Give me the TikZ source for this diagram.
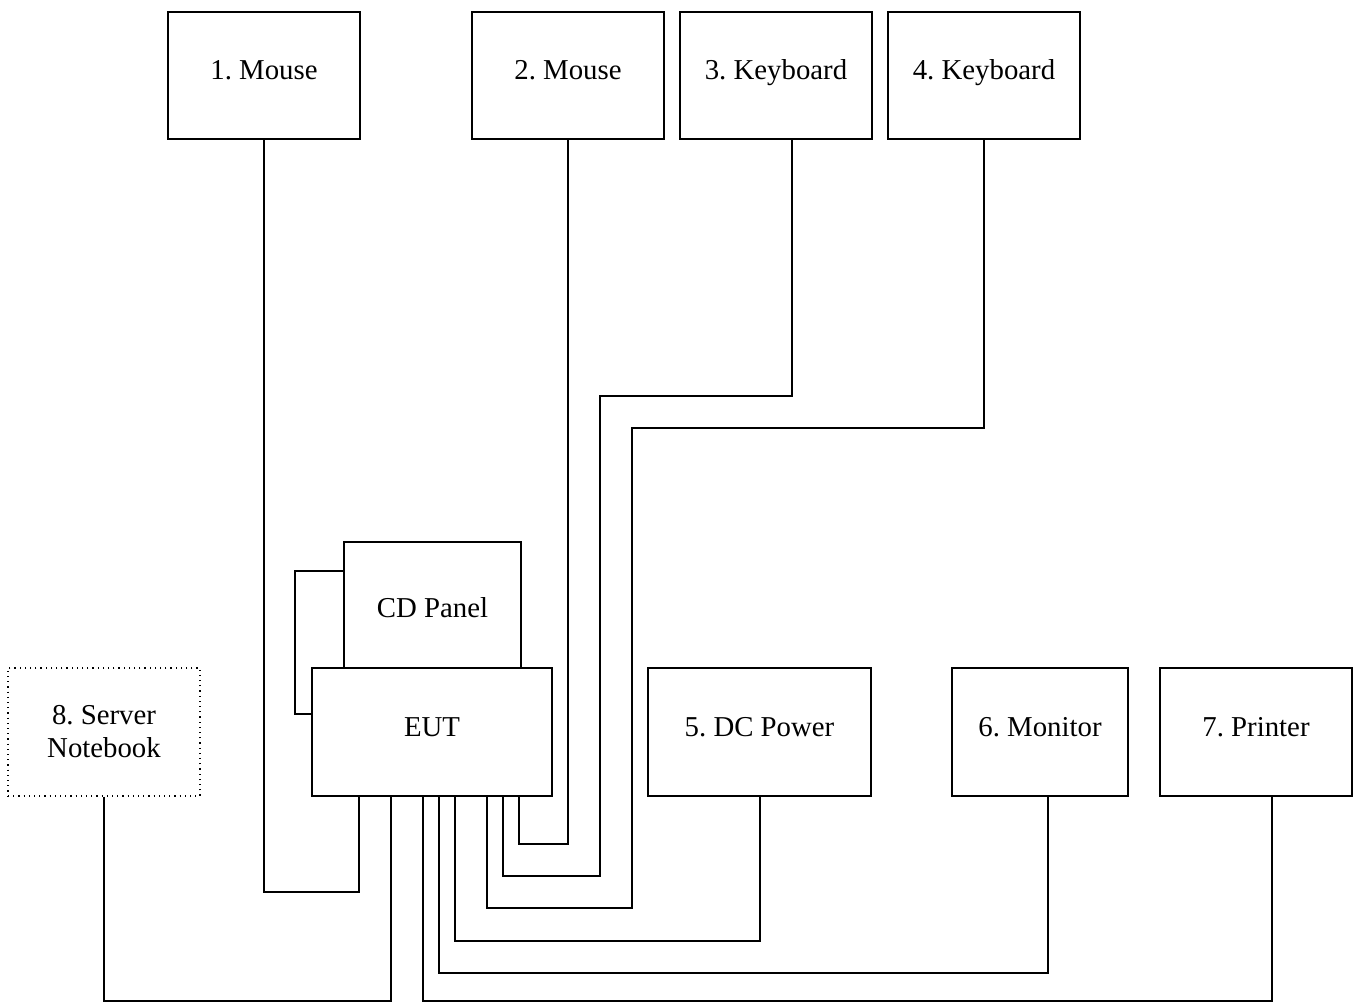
\documentclass[tikz,border=0pt]{standalone}
\usepackage{fontspec}
\setmainfont{Liberation Serif}
\begin{document}
\frenchspacing
\begin{tikzpicture}[x=0.5pt,y=-0.5pt,
  box/.style={draw,line width=1pt,inner sep=0pt,align=center,
    font=\fontsize{14.4}{16.5}\selectfont\frenchspacing},
  onebox/.style={box,text height=0.68em,text depth=0.25em},
  dotbox/.style={box,line width=0.6pt,dotted},
  wire/.style={line width=1pt}]
\useasboundingbox (0,0) rectangle (1359,1003);
% top devices
\node[onebox,minimum width=96pt,minimum height=63.5pt] (m1) at (264,75.5) {1. Mouse};
\node[onebox,minimum width=96pt,minimum height=63.5pt] (m2) at (568,75.5) {2. Mouse};
\node[onebox,minimum width=96pt,minimum height=63.5pt] (k3) at (776,75.5) {3. Keyboard};
\node[onebox,minimum width=96pt,minimum height=63.5pt] (k4) at (984,75.5) {4. Keyboard};
% EUT and CD panel
\node[box,text height=1.5em,text depth=0.23em,minimum width=88.5pt,minimum height=63pt] (cd) at (432.5,605) {CD Panel};
\node[onebox,minimum width=120pt,minimum height=64pt,fill=white] (eut) at (432,732) {EUT};
% bottom devices
\node[dotbox,minimum width=96pt,minimum height=64pt] (sn) at (104,732) {8. Server\\Notebook};
\node[onebox,minimum width=111.5pt,minimum height=64pt] (dc) at (759.5,732) {5. DC Power};
\node[onebox,minimum width=88pt,minimum height=64pt] (mon) at (1040,732) {6. Monitor};
\node[onebox,minimum width=96pt,minimum height=64pt] (pr) at (1256,732) {7. Printer};
% EUT ports
\coordinate (e1) at ([xshift=24pt]eut.south west);
\coordinate (e2) at ([xshift=40pt]eut.south west);
\coordinate (e3) at ([xshift=56pt]eut.south west);
\coordinate (e4) at ([xshift=64pt]eut.south west);
\coordinate (e5) at ([xshift=72pt]eut.south west);
\coordinate (e6) at ([xshift=88pt]eut.south west);
\coordinate (e7) at ([xshift=96pt]eut.south west);
\coordinate (e8) at ([xshift=104pt]eut.south west);
\coordinate (cdp) at ([yshift=-15pt]cd.north west);
\coordinate (eutp) at ([yshift=-23.5pt]eut.north west);
% CD panel loop
\draw[wire] (cdp) -- ++(-48,0) |- (eutp);
% connectors
\draw[wire] (m1.south) -- ++(0,752) -| (e1);
\draw[wire] (m2.south) -- ++(0,704) -| (e8);
\draw[wire] ([xshift=8pt]k3.south) -- ++(0,256) -- ++(-192,0) -- ++(0,480) -| (e7);
\draw[wire] (k4.south) -- ++(0,288) -- ++(-352,0) -- ++(0,480) -| (e6);
\draw[wire] ([xshift=0.25pt]dc.south) -- ++(0,144) -| (e5);
\draw[wire] ([xshift=4pt]mon.south) -- ++(0,176) -| (e4);
\draw[wire] (sn.south) -- ++(0,204) -| (e2);
\draw[wire] ([xshift=8pt]pr.south) -- ++(0,204) -| (e3);
\end{tikzpicture}
\end{document}
